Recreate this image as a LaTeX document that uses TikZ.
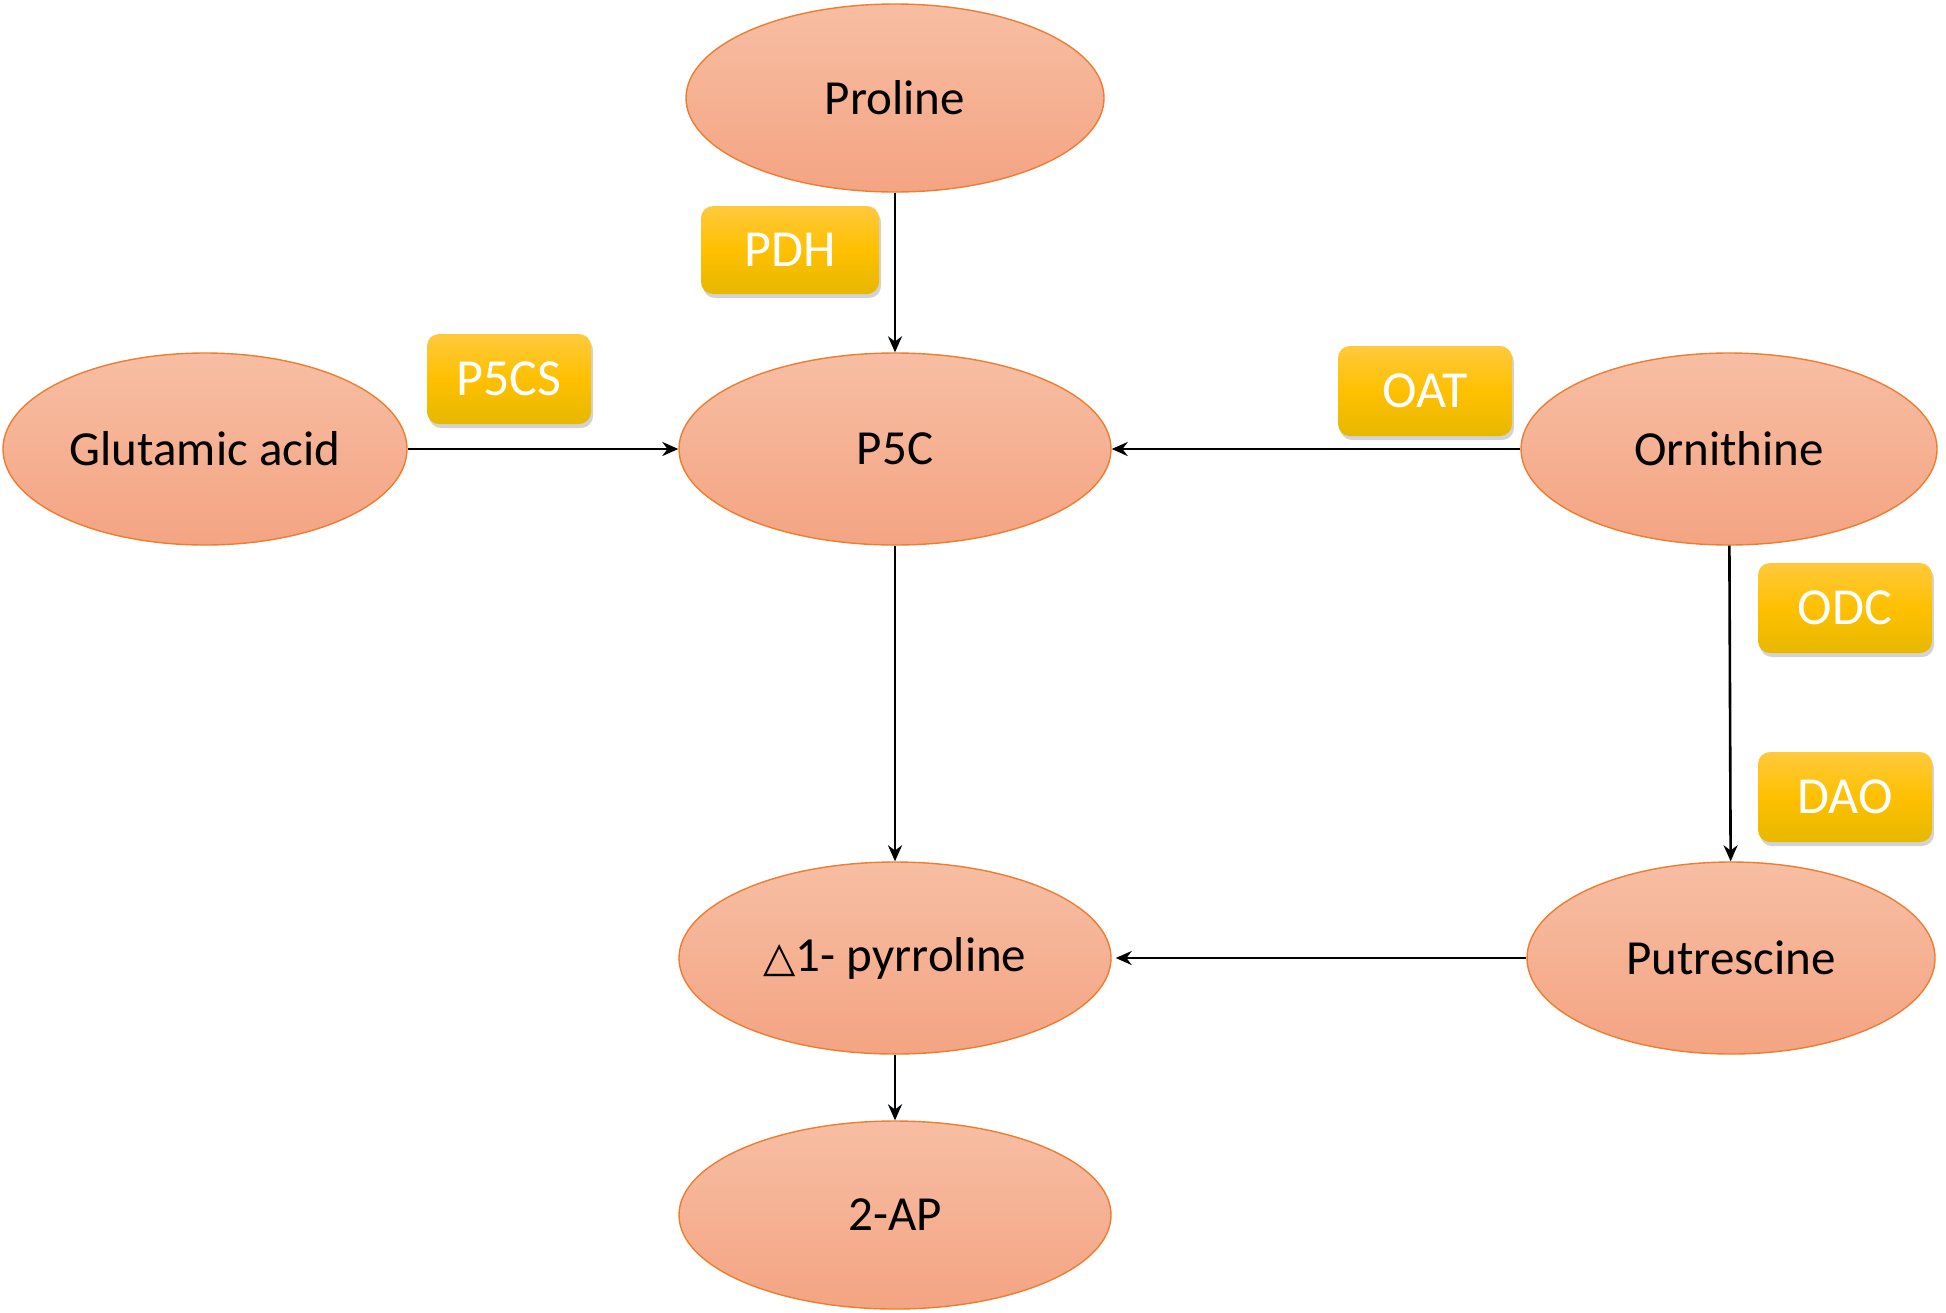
\documentclass[tikz,border=0pt]{standalone}
\usepackage{fontspec}
\setmainfont{Carlito}
\newfontfamily\symfont{DejaVu Sans}
\usetikzlibrary{shapes.geometric,arrows.meta,shadows}
\definecolor{ellTop}{HTML}{F7BEA3}
\definecolor{ellBot}{HTML}{F4A482}
\definecolor{ellLine}{HTML}{ED7D31}
\definecolor{boxTop}{HTML}{FFC93C}
\definecolor{boxMid}{HTML}{FFC000}
\definecolor{boxBot}{HTML}{E6B800}
\tikzset{
  metab/.style={ellipse, draw=ellLine, line width=0.7pt, top color=ellTop, bottom color=ellBot,
    inner sep=0pt, font=\fontsize{24.5}{28}\selectfont, text=black},
  enzyme/.style={rounded corners=6pt, draw=none, top color=boxTop, bottom color=boxBot, middle color=boxMid,
    minimum width=87pt, minimum height=45pt, inner sep=0pt, text=white,
    font=\fontsize{26}{30}\selectfont,
    drop shadow={opacity=0.35, shadow xshift=1pt, shadow yshift=-2pt}},
  flow/.style={line width=1.3pt, -{Stealth[length=8pt,width=7pt]}}
}
\begin{document}
\begin{tikzpicture}[x=0.5pt,y=-0.5pt]
\useasboundingbox (0,0) rectangle (1946,1312);
\node[metab, minimum width=209pt, minimum height=94pt] (pro) at (895,98) {Proline};
\node[metab, minimum width=216pt, minimum height=96pt] (p5c) at (895,449) {P5C};
\node[metab, minimum width=202pt, minimum height=96pt] (glu) at (205,449) {Glutamic acid};
\node[metab, minimum width=208pt, minimum height=96pt] (orn) at (1729,449) {Ornithine};
\node[metab, minimum width=216pt, minimum height=96pt] (pyr) at (895,958) {{\symfont\fontsize{21}{25}\selectfont △}1- pyrroline};
\node[metab, minimum width=204pt, minimum height=96pt] (put) at (1731,958) {Putrescine};
\node[metab, minimum width=216pt, minimum height=94pt] (ap) at (895,1215) {2-AP};

\node[enzyme, minimum width=89pt, minimum height=44pt] (pdh) at (790,250) {PDH};
\node[enzyme, minimum width=82pt] (p5cs) at (509,379) {P5CS};
\node[enzyme] (oat) at (1425,391) {OAT};
\node[enzyme] (odc) at (1845,608) {ODC};
\node[enzyme] (dao) at (1845,797) {DAO};

\draw[flow] (pro) -- (p5c);
\draw[flow] (glu) -- (p5c);
\draw[flow] (orn) -- (p5c);
\draw[flow] (p5c) -- (pyr);
\draw[flow] (orn) -- (put);
\draw[flow, shorten >=2pt] (put) -- (pyr);
\draw[flow] (pyr) -- (ap);
\end{tikzpicture}
\end{document}
